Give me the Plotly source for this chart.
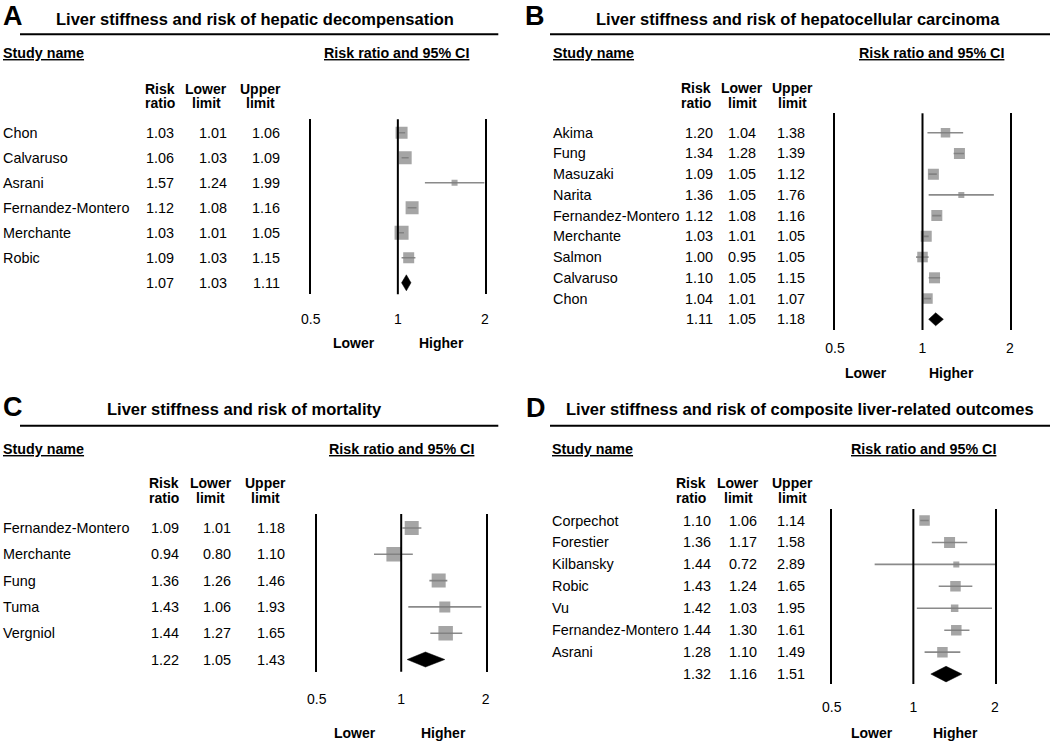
import math
import plotly.graph_objects as go

W, H = 1050, 742

# ---------------- data ----------------
A_title = "Liver stiffness and risk of hepatic decompensation"
A_studies = ["Chon", "Calvaruso", "Asrani", "Fernandez-Montero", "Merchante", "Robic"]
A_rr = [1.03, 1.06, 1.57, 1.12, 1.03, 1.09]
A_lo = [1.01, 1.03, 1.24, 1.08, 1.01, 1.03]
A_hi = [1.06, 1.09, 1.99, 1.16, 1.05, 1.15]
A_pooled = [1.07, 1.03, 1.11]

B_title = "Liver stiffness and risk of hepatocellular carcinoma"
B_studies = ["Akima", "Fung", "Masuzaki", "Narita", "Fernandez-Montero",
             "Merchante", "Salmon", "Calvaruso", "Chon"]
B_rr = [1.20, 1.34, 1.09, 1.36, 1.12, 1.03, 1.00, 1.10, 1.04]
B_lo = [1.04, 1.28, 1.05, 1.05, 1.08, 1.01, 0.95, 1.05, 1.01]
B_hi = [1.38, 1.39, 1.12, 1.76, 1.16, 1.05, 1.05, 1.15, 1.07]
B_pooled = [1.11, 1.05, 1.18]

C_title = "Liver stiffness and risk of mortality"
C_studies = ["Fernandez-Montero", "Merchante", "Fung", "Tuma", "Vergniol"]
C_rr = [1.09, 0.94, 1.36, 1.43, 1.44]
C_lo = [1.01, 0.80, 1.26, 1.06, 1.27]
C_hi = [1.18, 1.10, 1.46, 1.93, 1.65]
C_pooled = [1.22, 1.05, 1.43]

D_title = "Liver stiffness and risk of composite liver-related outcomes"
D_studies = ["Corpechot", "Forestier", "Kilbansky", "Robic", "Vu",
             "Fernandez-Montero", "Asrani"]
D_rr = [1.10, 1.36, 1.44, 1.43, 1.42, 1.44, 1.28]
D_lo = [1.06, 1.17, 0.72, 1.24, 1.03, 1.30, 1.10]
D_hi = [1.14, 1.58, 2.89, 1.65, 1.95, 1.61, 1.49]
D_pooled = [1.32, 1.16, 1.51]

tick_vals = [0.5, 1, 2]
tick_text = ["0.5", "1", "2"]
col_head_1 = ["Risk", "Lower", "Upper"]
col_head_2 = ["ratio", "limit", "limit"]

# ---------------- styles / layout ----------------
FONT = "Liberation Sans, Arial, Helvetica, sans-serif"
BOX = "#7f7f7f"
CIC = "#8a8a8a"

# box sizes (px) per study, visual weight
A_box = [12, 13, 6, 13, 14, 11]
B_box = [9.5, 11, 11, 6, 11, 11, 10.5, 11, 10.5]
C_box = [14, 14.5, 14, 11, 14.5]
D_box = [10.5, 11, 6, 10.5, 7.5, 10.5, 10.5]

panels = [
    dict(letter="A", title=A_title, data=(A_studies, A_rr, A_lo, A_hi, A_pooled), box=A_box,
         letter_xy=(13, 16.5), title_xy=(254.5, 19), rule=(20, 498.3, 34.3),
         study_xy=(3.3, 53.3), ci_xy=(396.8, 53.3), hdr_y=(88.5, 102.5),
         col_c=[159.5, 206.3, 260.5], col_r=[174, 226.7, 280], name_x=3.3,
         row0=132.8, drow=25.0, plot_x=(310.7, 485), plot_y=(119.3, 294.3),
         tick_off=26, lh_x=(353.5, 441.5), lh_y=343.3, dhalf=8),
    dict(letter="B", title=B_title, data=(B_studies, B_rr, B_lo, B_hi, B_pooled), box=B_box,
         letter_xy=(535.3, 16.3), title_xy=(798.3, 19), rule=(550, 1050, 34.3),
         study_xy=(553.3, 53.3), ci_xy=(931.7, 53.3), hdr_y=(88.3, 102.7),
         col_c=[696.2, 742.3, 792.5], col_r=[713.3, 755.7, 805], name_x=553.3,
         row0=132.7, drow=20.73, plot_x=(835, 1010), plot_y=(113.3, 330),
         tick_off=19, lh_x=(865.8, 951.8), lh_y=372.7, dhalf=6.5),
    dict(letter="C", title=C_title, data=(C_studies, C_rr, C_lo, C_hi, C_pooled), box=C_box,
         letter_xy=(13, 407), title_xy=(244.2, 408.7), rule=(20, 498.3, 425.7),
         study_xy=(3.3, 449), ci_xy=(401.5, 449), hdr_y=(483.3, 497.7),
         col_c=[164, 210.5, 265], col_r=[179, 230.7, 285], name_x=3.3,
         row0=528, drow=26.3, plot_x=(316.7, 485.7), plot_y=(514, 671.7),
         tick_off=28, lh_x=(355, 443.5), lh_y=732.7, dhalf=7.5),
    dict(letter="D", title=D_title, data=(D_studies, D_rr, D_lo, D_hi, D_pooled), box=D_box,
         letter_xy=(535.8, 408), title_xy=(800.3, 408.7), rule=(550, 1050, 425.7),
         study_xy=(551.7, 449), ci_xy=(923.2, 449), hdr_y=(483.3, 497.7),
         col_c=[691.3, 738, 792.5], col_r=[710.7, 757.3, 805], name_x=551.7,
         row0=520.5, drow=21.94, plot_x=(831.7, 995), plot_y=(509, 684),
         tick_off=24, lh_x=(871.7, 955.3), lh_y=732.7, dhalf=7.8),
]


def px(x):
    return x / W


def py(y):
    return 1 - y / H


fig = go.Figure()
ann = []
shapes = []
axes = {}


def text(t, x, y, size, xanchor="center", yref="paper", bold=False, xref="paper"):
    ann.append(dict(text=("<b>%s</b>" % t) if bold else t, x=x, y=y, xref=xref, yref=yref,
                    xanchor=xanchor, yanchor="middle", showarrow=False,
                    borderpad=0, borderwidth=0,
                    font=dict(family=FONT, size=size, color="black")))


for n, p in enumerate(panels, start=1):
    sfx = "" if n == 1 else str(n)
    xa, ya = "x" + sfx, "y" + sfx
    studies, rr, lo, hi, pooled = p["data"]
    k = len(studies)
    rows = list(range(k))
    srow = k

    top_i = (p["plot_y"][0] - p["row0"]) / p["drow"]
    bot_i = (p["plot_y"][1] - p["row0"]) / p["drow"]

    axes["xaxis" + sfx] = dict(
        type="log", range=[math.log10(tick_vals[0]), math.log10(tick_vals[-1])],
        domain=[px(p["plot_x"][0]), px(p["plot_x"][1])], anchor=ya,
        tickmode="array", tickvals=tick_vals, ticktext=tick_text,
        showgrid=False, zeroline=False, showline=False, ticks="",
        ticklabelstandoff=int(p["tick_off"] - 11), automargin=False,
        tickfont=dict(family=FONT, size=14, color="black"), fixedrange=True)
    axes["yaxis" + sfx] = dict(
        range=[bot_i, top_i], domain=[py(p["plot_y"][1]), py(p["plot_y"][0])],
        anchor=xa, showline=True, mirror=True, linecolor="black", linewidth=2,
        showgrid=False, zeroline=False, showticklabels=False, ticks="",
        automargin=False, fixedrange=True)

    # line of no effect
    shapes.append(dict(type="line", xref=xa, yref=ya + " domain", x0=1, x1=1, y0=0, y1=1,
                       line=dict(color="black", width=2)))

    # confidence intervals
    cx, cy = [], []
    for i in rows:
        cx += [lo[i], hi[i], None]
        cy += [i, i, None]
    fig.add_trace(go.Scatter(x=cx, y=cy, mode="lines", xaxis=xa, yaxis=ya,
                             line=dict(color=CIC, width=1.6), hoverinfo="skip",
                             showlegend=False))
    # point estimates
    fig.add_trace(go.Scatter(x=rr, y=rows, mode="markers", xaxis=xa, yaxis=ya,
                             marker=dict(symbol="square", size=p["box"], color=BOX,
                                         line=dict(width=0)),
                             text=studies, showlegend=False))
    # pooled diamond
    h = p["dhalf"] / p["drow"]
    est, plo, phi = pooled
    fig.add_trace(go.Scatter(x=[plo, est, phi, est, plo],
                             y=[srow, srow - h, srow, srow + h, srow],
                             mode="lines", fill="toself", fillcolor="black",
                             line=dict(color="black", width=0.5),
                             xaxis=xa, yaxis=ya, showlegend=False, hoverinfo="skip"))

    # headings
    text(p["letter"], px(p["letter_xy"][0]), py(p["letter_xy"][1]), 27, bold=True)
    text(p["title"], px(p["title_xy"][0]), py(p["title_xy"][1]), 16.5, bold=True)
    shapes.append(dict(type="line", xref="paper", yref="paper",
                       x0=px(p["rule"][0]), x1=px(p["rule"][1]),
                       y0=py(p["rule"][2]), y1=py(p["rule"][2]),
                       line=dict(color="black", width=2)))
    text("<u>Study name</u>", px(p["study_xy"][0]), py(p["study_xy"][1]), 14.3,
         xanchor="left", bold=True)
    text("<u>Risk ratio and 95% CI</u>", px(p["ci_xy"][0]), py(p["ci_xy"][1]), 14.3, bold=True)
    for j in range(3):
        text(col_head_1[j], px(p["col_c"][j]), py(p["hdr_y"][0]), 14, bold=True)
        text(col_head_2[j], px(p["col_c"][j]), py(p["hdr_y"][1]), 14, bold=True)

    # table rows
    for i in rows:
        text(studies[i], px(p["name_x"]), i, 14.4, xanchor="left", yref=ya)
        for j, v in enumerate((rr[i], lo[i], hi[i])):
            text("%.2f" % v, px(p["col_r"][j]), i, 14.4, xanchor="right", yref=ya)
    for j, v in enumerate(pooled):
        text("%.2f" % v, px(p["col_r"][j]), srow, 14.4, xanchor="right", yref=ya)

    text("Lower", px(p["lh_x"][0]), py(p["lh_y"]), 14, bold=True)
    text("Higher", px(p["lh_x"][1]), py(p["lh_y"]), 14, bold=True)

fig.update_layout(
    width=W, height=H, autosize=False, margin=dict(l=0, r=0, t=0, b=0, pad=0),
    paper_bgcolor="white", plot_bgcolor="white",
    showlegend=False, annotations=ann, shapes=shapes,
    font=dict(family=FONT, color="black"),
    **axes)

fig.write_html(
    "out.html",
    config={"responsive": False, "displayModeBar": False},
    post_script="document.body.style.margin='0';document.body.style.padding='0';"
                "document.documentElement.style.overflow='hidden';"
                "document.body.style.overflow='hidden';",
)
